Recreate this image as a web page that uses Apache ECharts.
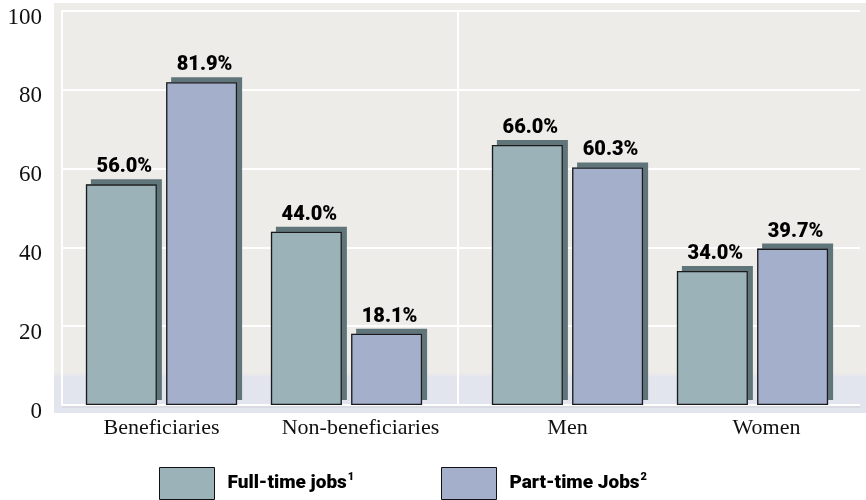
<!DOCTYPE html>
<html>
<head>
<meta charset="utf-8">
<script src="https://cdn.jsdelivr.net/npm/echarts@6/dist/echarts.min.js"></script>
<style>
html,body{margin:0;padding:0;background:#fff;}
#c{width:866px;height:500px;}
</style>
</head>
<body>
<div id="c"></div>
<script>
const leftCategories = ['Beneficiaries', 'Non-beneficiaries'];
const rightCategories = ['Men', 'Women'];
const fullTimeLeft = [56.0, 44.0];
const partTimeLeft = [81.9, 18.1];
const fullTimeRight = [66.0, 34.0];
const partTimeRight = [60.3, 39.7];
const yTicks = [0, 20, 40, 60, 80, 100];

const FULL = 'Full-time jobs';
const PART = 'Part-time Jobs';
const fullColor = '#9cb2b9';
const partColor = '#a3afcb';
const shadowColor = '#5f7579';
const labelFont = 'Roboto,"Liberation Sans",sans-serif';
const serif = '"Liberation Serif","DejaVu Serif",serif';

const chart = echarts.init(document.getElementById('c'), null, {renderer: 'canvas'});

// shadow layer: fill only, offset shadow
function shadowSeries(name, data, axisIdx, color) {
  return {
    type: 'bar', name: name, data: data,
    xAxisIndex: axisIdx, yAxisIndex: axisIdx,
    barWidth: 71, barGap: '13%', z: 1,
    itemStyle: {
      color: color, borderWidth: 0,
      shadowColor: shadowColor, shadowBlur: 0, shadowOffsetX: 5, shadowOffsetY: -5
    },
    emphasis: {disabled: true}, silent: true
  };
}
// top layer: fill + border + label
function barSeries(name, data, axisIdx, color) {
  return {
    type: 'bar', name: name, data: data,
    xAxisIndex: axisIdx, yAxisIndex: axisIdx,
    barWidth: 71, barGap: '13%', z: 3,
    itemStyle: {color: color, borderColor: '#1a1a1a', borderWidth: 1.3},
    label: {
      show: true, position: 'top', distance: 7, offset: [3, 0],
      formatter: p => p.value.toFixed(1) + '%',
      fontFamily: labelFont, fontWeight: 900, fontSize: 20, color: '#000'
    },
    emphasis: {disabled: true}
  };
}

function catAxis(idx, cats, showLabels) {
  return {
    type: 'category', gridIndex: idx,
    data: cats.map((c, i) => i === 1 ? {value: c, textStyle: {padding: [0, 0, 0, 28]}} : c),
    axisLine: {show: false}, axisTick: {show: false}, splitLine: {show: false},
    axisLabel: {
      show: showLabels, interval: 0, hideOverlap: false,
      fontFamily: serif, fontSize: 22, color: '#111', margin: 12, verticalAlign: 'top'
    }
  };
}

function hiddenY(idx) {
  return {type: 'value', gridIndex: idx, min: yTicks[0], max: yTicks[yTicks.length - 1], interval: 20, show: false};
}

const legendStyle = {
  itemWidth: 55, itemHeight: 32, top: 462, orient: 'horizontal', icon: 'rect',
  itemStyle: {borderColor: '#111', borderWidth: 1, shadowBlur: 0, shadowOffsetX: 0, shadowOffsetY: 0, shadowColor: 'rgba(0,0,0,0)'},
  textStyle: {
    padding: [0, 0, 0, 8],
    rich: {
      a: {fontFamily: labelFont, fontWeight: 900, fontSize: 19, color: '#000', lineHeight: 24},
      s: {fontFamily: labelFont, fontWeight: 900, fontSize: 11, color: '#000', verticalAlign: 'top', lineHeight: 24, padding: [0, 0, 8, 1]}
    }
  },
  selectedMode: false
};

const gridBox = {top: 11, bottom: 95};
const option = {
  backgroundColor: '#ffffff',
  animation: false,
  graphic: [
    {type: 'rect', z: -10, shape: {x: 54, y: 3, width: 812, height: 410}, style: {fill: '#edece8'}},
    {type: 'rect', z: -9, shape: {x: 54, y: 373, width: 812, height: 40},
      style: {fill: new echarts.graphic.LinearGradient(0, 0, 0, 1, [
        {offset: 0, color: '#eceaea'}, {offset: 0.12, color: '#e2e5ee'}, {offset: 1, color: '#e2e5ee'}])}},
    {type: 'line', z: -8, shape: {x1: 458, y1: 11, x2: 458, y2: 405}, style: {stroke: '#ffffff', lineWidth: 2}},
    {type: 'line', z: -8, shape: {x1: 62, y1: 407, x2: 860, y2: 407}, style: {stroke: '#cfd0d6', lineWidth: 1}}
  ],
  grid: [
    Object.assign({left: 62, right: 6}, gridBox),
    Object.assign({left: 69, width: 370}, gridBox),
    Object.assign({left: 475, width: 370}, gridBox),
    Object.assign({left: 69, width: 370}, gridBox),
    Object.assign({left: 475, width: 370}, gridBox)
  ],
  xAxis: [
    {type: 'value', gridIndex: 0, show: false, min: 0, max: 1},
    catAxis(1, leftCategories, false),
    catAxis(2, rightCategories, false),
    catAxis(3, leftCategories, true),
    catAxis(4, rightCategories, true)
  ],
  yAxis: [
    {
      type: 'value', gridIndex: 0, min: yTicks[0], max: yTicks[yTicks.length - 1], interval: 20,
      axisLine: {show: true, lineStyle: {color: '#ffffff', width: 2}},
      axisTick: {show: false},
      splitLine: {show: true, lineStyle: {color: '#ffffff', width: 2}},
      axisLabel: {fontFamily: serif, fontSize: 23, color: '#111', margin: 20, verticalAlign: 'top', lineHeight: 13}
    },
    hiddenY(1), hiddenY(2), hiddenY(3), hiddenY(4)
  ],
  legend: [
    Object.assign({}, legendStyle, {left: 154, data: [FULL], formatter: n => '{a|' + n + '}{s|1}'}),
    Object.assign({}, legendStyle, {left: 436, data: [PART], formatter: n => '{a|' + n + '}{s|2}'})
  ],
  series: [
    shadowSeries(FULL, fullTimeLeft, 1, fullColor),
    shadowSeries(PART, partTimeLeft, 1, partColor),
    shadowSeries(FULL, fullTimeRight, 2, fullColor),
    shadowSeries(PART, partTimeRight, 2, partColor),
    barSeries(FULL, fullTimeLeft, 3, fullColor),
    barSeries(PART, partTimeLeft, 3, partColor),
    barSeries(FULL, fullTimeRight, 4, fullColor),
    barSeries(PART, partTimeRight, 4, partColor)
  ]
};
chart.setOption(option);
</script>
</body>
</html>
